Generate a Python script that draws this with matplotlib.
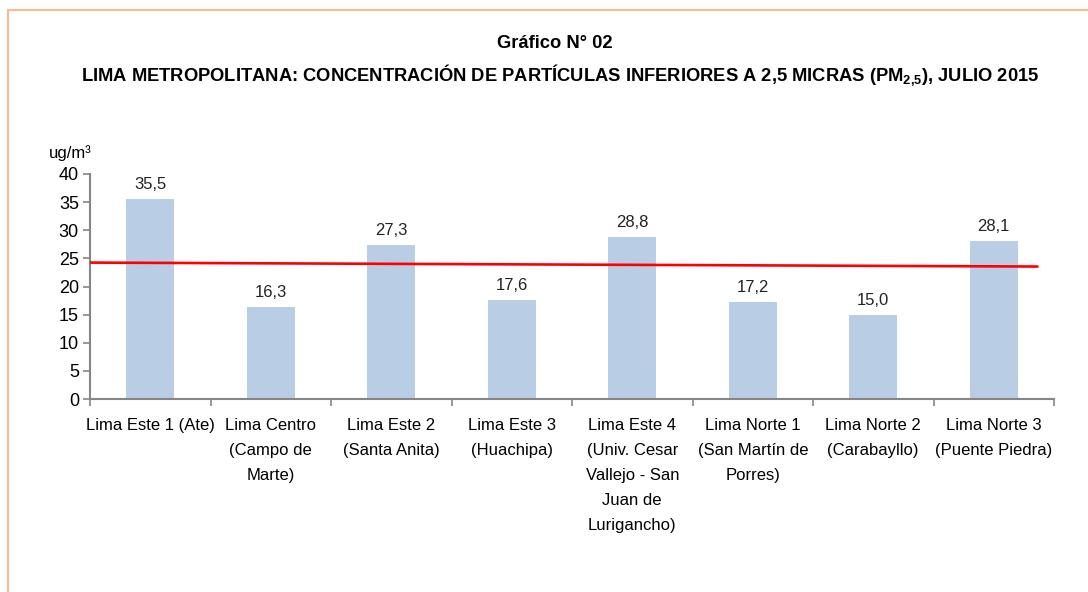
import matplotlib
matplotlib.use("Agg")
import matplotlib.pyplot as plt
import matplotlib.patches as mpatches
import numpy as np

# ---- data ----
categories = [
    "Lima Este 1 (Ate)",
    "Lima Centro\n(Campo de\nMarte)",
    "Lima Este 2\n(Santa Anita)",
    "Lima Este 3\n(Huachipa)",
    "Lima Este 4\n(Univ. Cesar\nVallejo - San\nJuan de\nLurigancho)",
    "Lima Norte 1\n(San Martín de\nPorres)",
    "Lima Norte 2\n(Carabayllo)",
    "Lima Norte 3\n(Puente Piedra)",
]
values = [35.5, 16.3, 27.3, 17.6, 28.8, 17.2, 15.0, 28.1]
ref_line_x = [-0.5, 7.36]
ref_line_y = [24.25, 23.55]
yticks = [0, 5, 10, 15, 20, 25, 30, 35, 40]

FONT = ["Liberation Sans", "DejaVu Sans"]
plt.rcParams["font.family"] = FONT
plt.rcParams["mathtext.fontset"] = "custom"
plt.rcParams["mathtext.bf"] = "Liberation Sans:bold"
plt.rcParams["mathtext.rm"] = "Liberation Sans"

fig = plt.figure(figsize=(10.88, 5.92), dpi=100)
ax = fig.add_axes([90/1088, 1-399/592, (1054-90)/1088, (399-174)/592])

x = np.arange(len(categories))
ax.bar(x, values, width=0.4, color="#B9CDE5", zorder=2)
ax.plot(ref_line_x, ref_line_y, color="#FF0000", lw=1.9, zorder=3)

for xi, v in zip(x, values):
    ax.annotate(f"{v:.1f}".replace(".", ","), (xi, v), xytext=(0, 5),
                textcoords="offset points", ha="center", va="bottom",
                fontsize=12, color="#222222")

ax.set_xlim(-0.5, len(categories) - 0.5)
ax.set_ylim(0, 40)
ax.set_yticks(yticks)
ax.set_yticklabels([str(t) for t in yticks], fontsize=13)
ax.set_xticks(x)
ax.set_xticklabels(categories, fontsize=12, linespacing=1.84, va="top")
ax.set_xticks(np.arange(-0.5, len(categories) + 0.5, 1), minor=True)
ax.tick_params(axis="x", which="major", length=0, pad=13.5)
ax.tick_params(axis="x", which="minor", length=5, direction="out", color="#868686", width=1.2)
ax.tick_params(axis="y", length=5, direction="out", color="#868686", width=1.2, pad=3)
for s in ["top", "right"]:
    ax.spines[s].set_visible(False)
for s in ["left", "bottom"]:
    ax.spines[s].set_color("#868686")
    ax.spines[s].set_linewidth(1.5)

fig.text(49/1088, 1-153/592, "ug/m³", fontsize=12, ha="left", va="center")

fig.text(555/1088, 1-43/592, "Gráfico N° 02", fontsize=13.2, fontweight="bold",
         ha="center", va="center")
fig.text(560/1088, 1-75/592,
         r"LIMA METROPOLITANA: CONCENTRACIÓN DE PARTÍCULAS INFERIORES A 2,5 MICRAS (PM$\mathbf{_{2{,}5}}$), JULIO 2015",
         fontsize=13.2, fontweight="bold", ha="center", va="center")

top = 1 - 10/592
border = mpatches.Rectangle((8/1088, -0.2), 1.2, top + 0.2, fill=False,
                            edgecolor="#F9BC8F", lw=1.5, transform=fig.transFigure)
fig.patches.append(border)

fig.savefig("out.png", dpi=100, facecolor="white")
